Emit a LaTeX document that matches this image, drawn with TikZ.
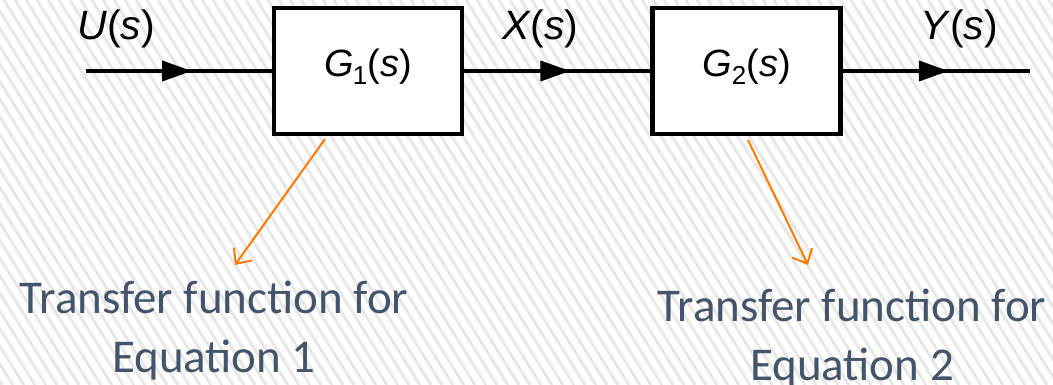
\documentclass[tikz,border=0pt]{standalone}
\usepackage{fontspec}
\setmainfont{Liberation Sans}
\newfontfamily\calib{Carlito}
\usetikzlibrary{arrows.meta,decorations.markings,calc}
\definecolor{stripe}{RGB}{232,232,232}
\definecolor{callout}{RGB}{255,122,0}
\definecolor{slate}{RGB}{68,84,106}
\tikzset{
  blockbox/.style={draw=black, line width=4.5pt, fill=white, rectangle,
    minimum width=188pt, minimum height=126pt, inner sep=0pt,
    text height=12pt, text depth=0pt,
    font=\fontsize{38}{40}\selectfont},
  sig/.style={line width=4pt},
  midarrow/.style={postaction={decorate, decoration={markings,
    mark=at position 106pt with {\arrow{Triangle[length=30pt,width=20pt]}}}}},
  siglabel/.style={anchor=base west, inner sep=0pt, font=\fontsize{41}{44}\selectfont},
  note/.style={align=center, inner sep=0pt, text=slate, anchor=base,
    font=\calib\fontsize{47}{59}\selectfont},
  pointer/.style={draw=callout, line width=2pt, -{Straight Barb[length=12pt,width=22pt]}}
}
\begin{document}
\begin{tikzpicture}[x=1pt,y=-1pt]
  \useasboundingbox (0,0) rectangle (1053,385);
  % background hatch
  \begin{scope}
    \clip (0,0) rectangle (1053,385);
    \fill[white] (0,0) rectangle (1053,385);
    \foreach \i in {-260,-249,...,1070}
      \draw[stripe, line width=3pt] (\i,0) -- ++(240,385);
  \end{scope}

  % blocks
  \node[blockbox] (G1) at (368,71) {\textit{G}\kern-1pt\raisebox{-8pt}{\fontsize{26}{26}\selectfont 1}(\textit{s})};
  \node[blockbox] (G2) at (746.5,71) {\textit{G}\raisebox{-8pt}{\fontsize{26}{26}\selectfont 2}(\textit{s})};

  % signal line
  \coordinate (in) at (86,71);
  \coordinate (out) at (1030,71);
  \draw[sig, midarrow] (in) -- (G1.west);
  \draw[sig, midarrow] (G1.east) -- (G2.west);
  \draw[sig, midarrow] (G2.east) -- (out);

  % signal labels
  \node[siglabel] (U) at (77,40) {\textit{U}(\textit{s})};
  \node[siglabel] (X) at (502,40) {\textit{X}(\textit{s})};
  \node[siglabel] (Y) at (920,40) {\textit{Y}(\textit{s})};

  % notes
  \node[note] (T1) at (214,372) {Transfer function for\\Equation 1};
  \node[note] (T2) at (852,380) {Transfer function for\\Equation 2};

  % callout arrows
  \coordinate (p1s) at (325,139);
  \coordinate (p1e) at (235,265);
  \coordinate (p2s) at (748,140);
  \coordinate (p2e) at (808,265);
  \draw[pointer] (p1s) -- (p1e);
  \draw[pointer] (p2s) -- (p2e);
\end{tikzpicture}
\end{document}
